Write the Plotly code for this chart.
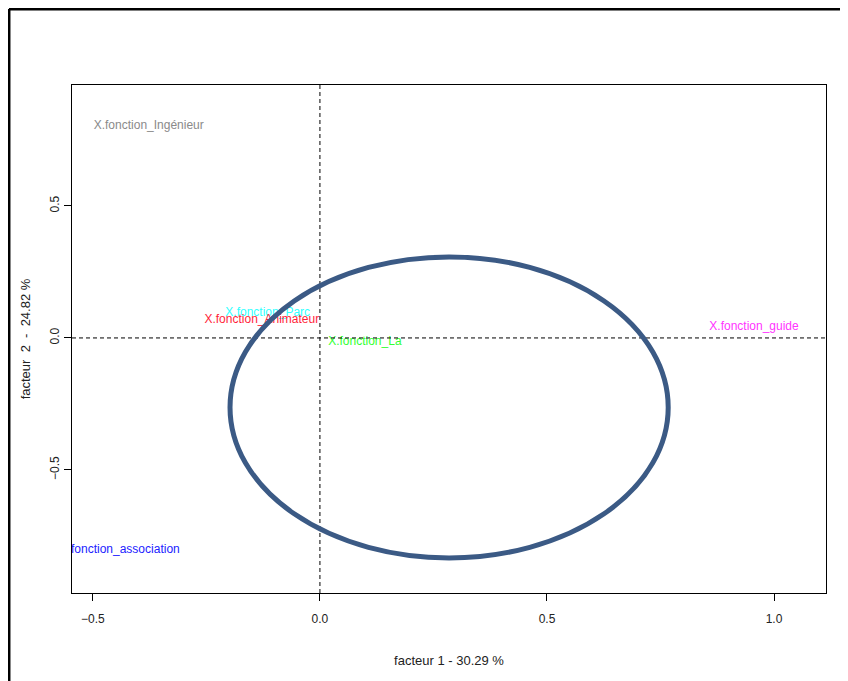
import plotly.graph_objects as go

# labels of the modalities and their coordinates on factors 1 and 2
labels = ['X.fonction_Ingénieur', 'X.fonction_Parc', 'X.fonction_Animateur',
          'X.fonction_La', 'X.fonction_guide', 'X.fonction_association']
fact1 = [-0.377, -0.115, -0.128, 0.099, 0.956, -0.441]
fact2 = [0.803, 0.095, 0.068, -0.015, 0.042, -0.803]
colors = ['#8a8a8a', '#33ffff', '#ff1f3a', '#33ff33', '#ff33ff', '#2222ff']

# ellipse bounding box (factor 1 min/max, factor 2 min/max)
ell_x = [-0.198, 0.767]
ell_y = [-0.833, 0.307]

xticks = [-0.5, 0.0, 0.5, 1.0]
yticks = [-0.5, 0.0, 0.5]

font_name = 'Liberation Sans Narrow, Arial Narrow, Liberation Sans, Arial'

fig = go.Figure()

fig.add_trace(go.Scatter(
    x=fact1, y=fact2,
    mode='text',
    text=labels,
    textposition='middle center',
    textfont=dict(family=font_name, size=12, color=colors),
    cliponaxis=True,
    hoverinfo='skip',
    showlegend=False
))

# dashed axes through origin
fig.add_hline(y=0, line=dict(color='black', width=1, dash='4px,3px'))
fig.add_vline(x=0, line=dict(color='black', width=1, dash='4px,3px'))

# ellipse
fig.add_shape(type='circle', xref='x', yref='y',
              x0=ell_x[0], x1=ell_x[1], y0=ell_y[0], y1=ell_y[1],
              line=dict(color='#3b5a85', width=5), layer='above')

# window frame of the screenshot
fig.add_shape(type='line', xref='paper', yref='paper',
              x0=-0.0836, x1=1.06, y0=1.1496, y1=1.1496,
              line=dict(color='black', width=3))
fig.add_shape(type='line', xref='paper', yref='paper',
              x0=-0.0836, x1=-0.0836, y0=1.1496, y1=-0.2,
              line=dict(color='black', width=3))

axis = dict(
    showline=True,
    mirror=True,
    linecolor='black',
    linewidth=1,
    showgrid=False,
    zeroline=False,
    ticks='outside',
    ticklen=7,
    tickcolor='black',
    tickformat='.1f',
    tickfont=dict(family=font_name, size=12, color='#222222'),
)

nb = '\u00a0'
fig.update_xaxes(axis, range=[-0.546, 1.1145], tickvals=xticks,
                 ticklabelstandoff=8,
                 title=dict(text='facteur 1 - 30.29 %', standoff=30,
                            font=dict(family=font_name, size=13, color='#222222')))
fig.update_yaxes(axis, range=[-0.966, 0.958], tickvals=yticks, tickangle=-90,
                 title=dict(text='facteur' + nb * 2 + '2' + nb * 2 + '-' + nb * 2 + '24.82' + nb + '%',
                            standoff=14,
                            font=dict(family='Liberation Sans, Arial', size=13, color='#222222')))

fig.update_layout(
    width=840, height=673,
    margin=dict(l=64, r=22, t=77, b=88),
    plot_bgcolor='white',
    paper_bgcolor='white',
    showlegend=False
)

fig.write_html("out.html")
